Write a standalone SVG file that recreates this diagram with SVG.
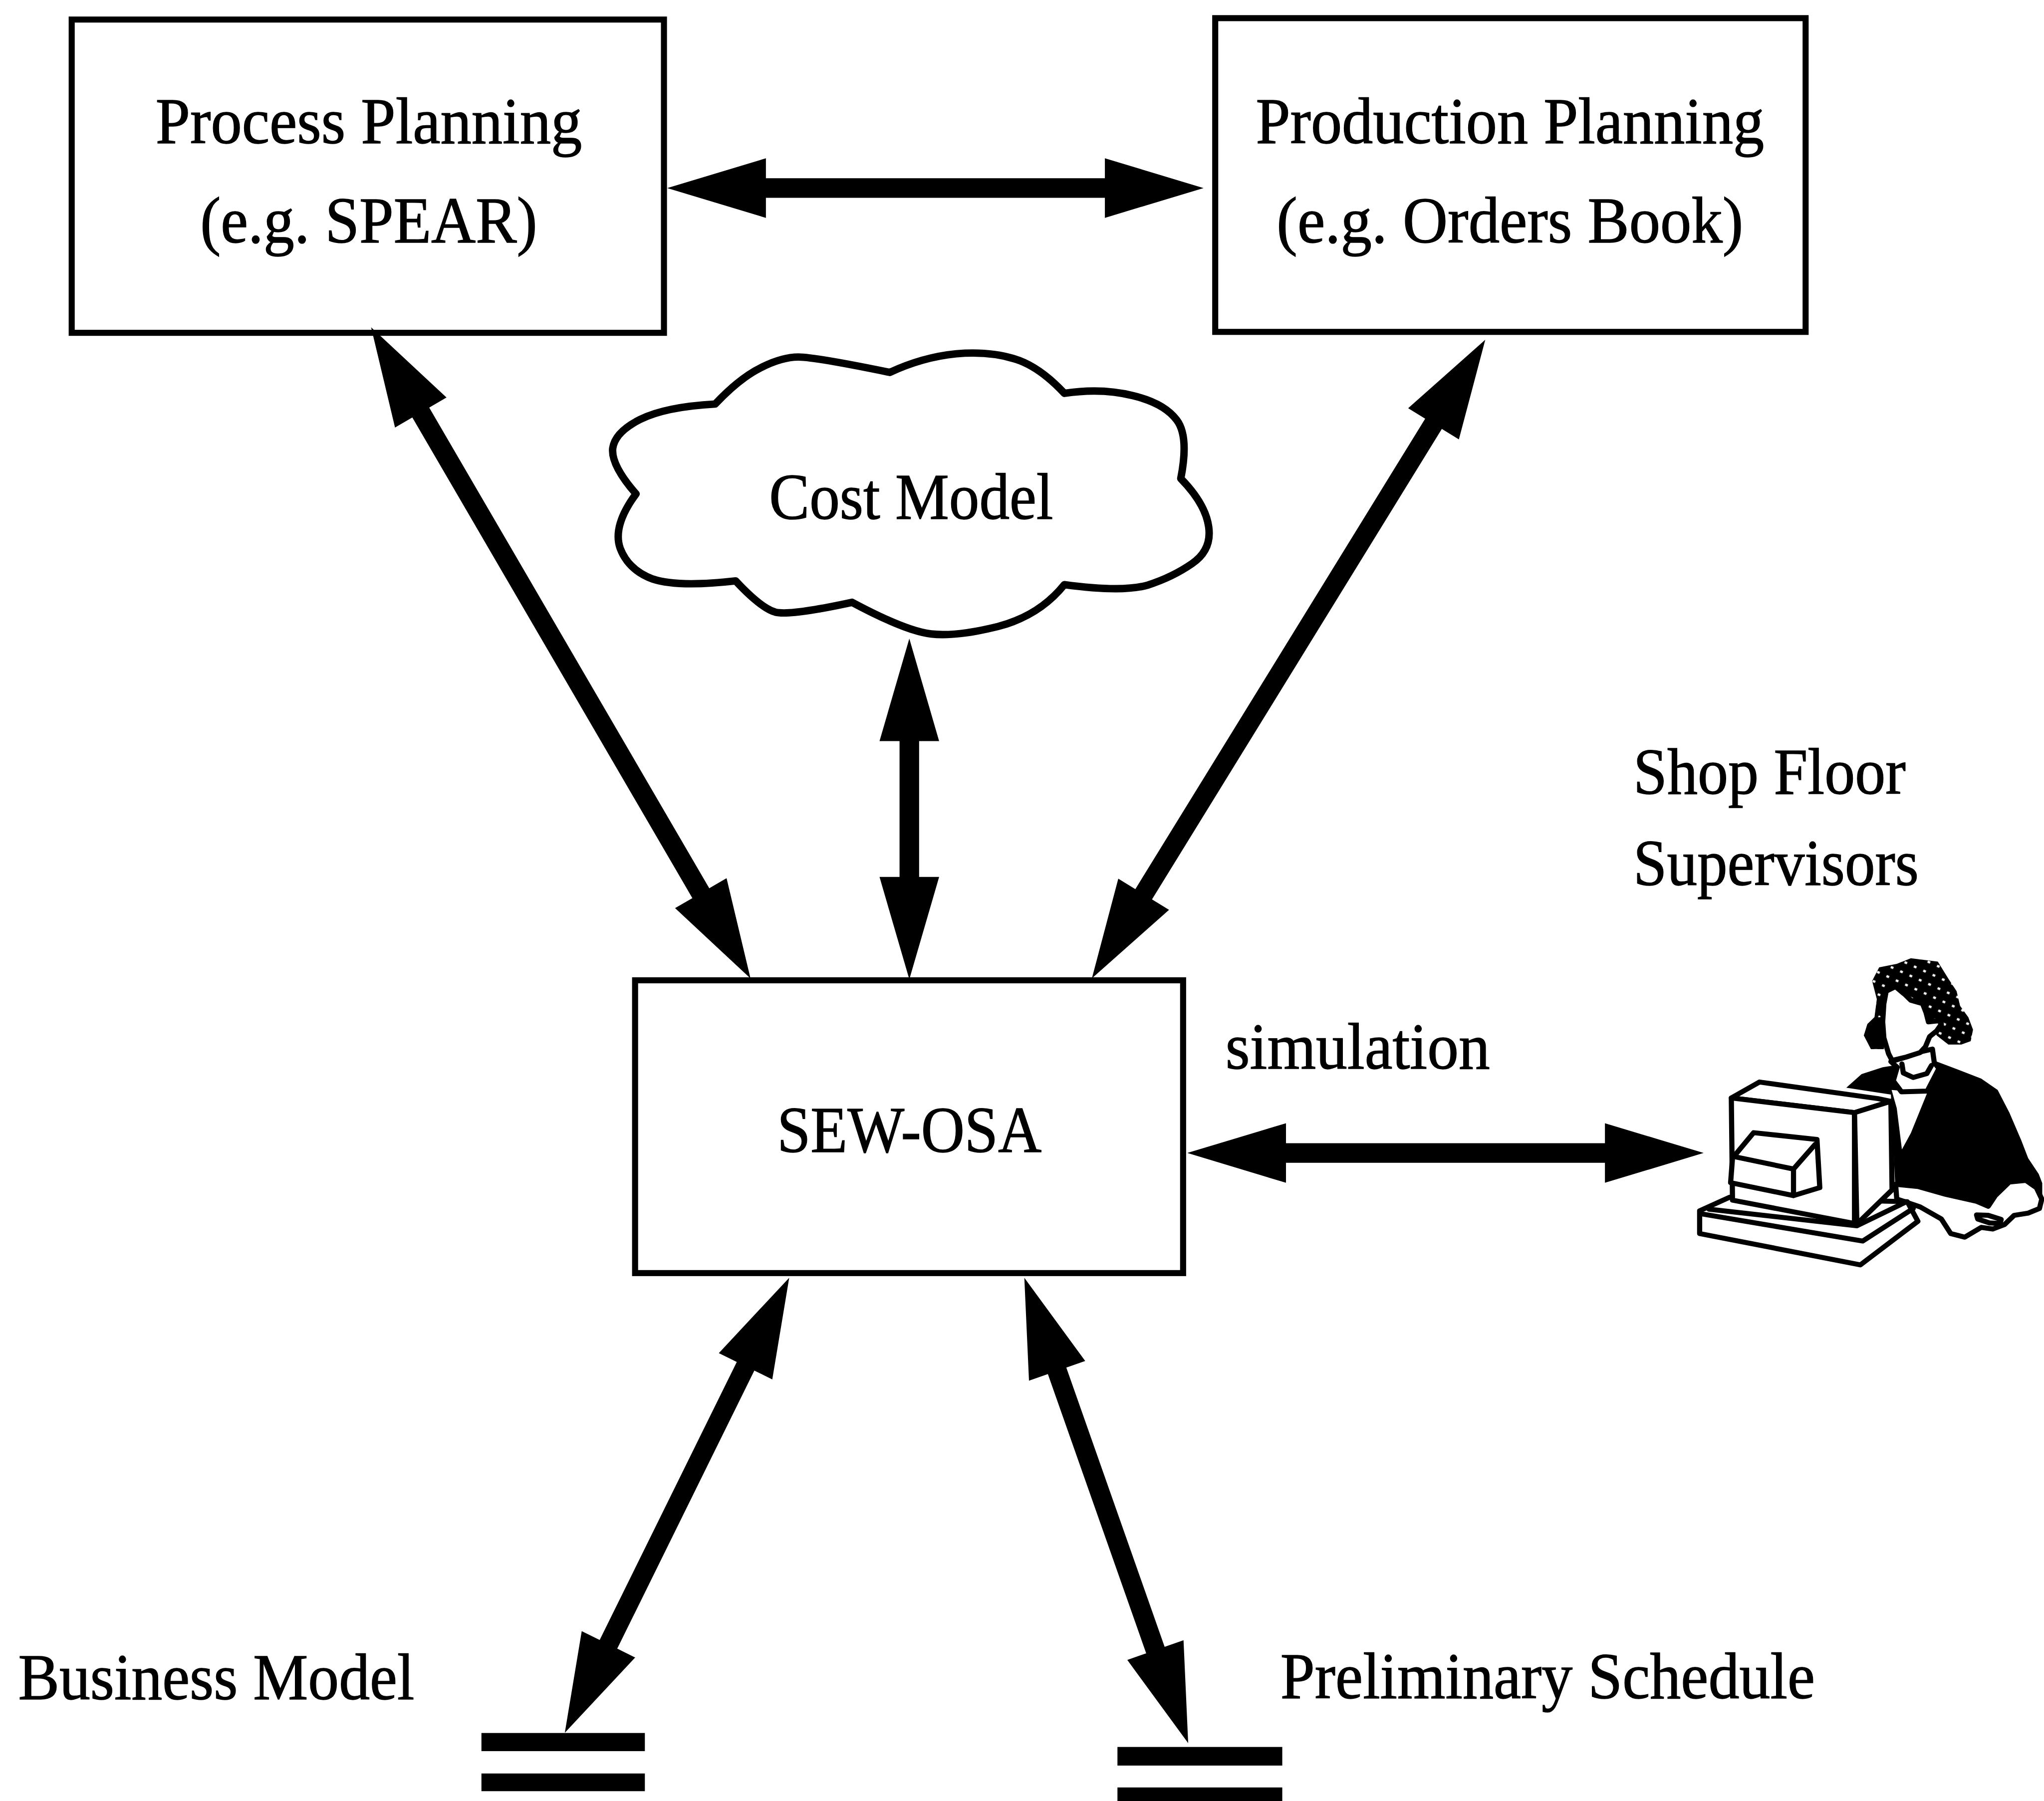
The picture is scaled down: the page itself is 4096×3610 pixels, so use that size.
<svg xmlns="http://www.w3.org/2000/svg" width="4096" height="3610" viewBox="0 0 4096 3610">
  <style>
    .box { fill: none; stroke: #000; stroke-width: 13; }
    .cloud { fill: none; stroke: #000; stroke-width: 16; stroke-linejoin: round; }
    .lbl { font-family: "Liberation Serif", "Times New Roman", serif; font-size: 140px; fill: #000; stroke: #000; stroke-width: 1.5; }
    .mid { text-anchor: middle; }
    .arrow { fill: #000; }
    .store { fill: #000; }
    .ink { fill: #fff; stroke: #000; stroke-width: 22; stroke-linejoin: round; }
    .line { fill: none; stroke: #000; stroke-width: 22; stroke-linejoin: round; stroke-linecap: round; }
  </style>
  <defs>
    <pattern id="dots" patternUnits="userSpaceOnUse" width="44" height="44" patternTransform="rotate(25)">
      <rect width="44" height="44" fill="#000"/>
      <rect x="16" y="16" width="12" height="10" fill="#fff"/>
    </pattern>
  </defs>
  <rect width="4096" height="3610" fill="#fff"/>
  <g transform="scale(0.93303)">

    <g id="process-planning">
      <rect class="box" x="154" y="42" width="1272" height="673"/>
      <text class="lbl mid" x="792" y="308" textLength="916" lengthAdjust="spacingAndGlyphs">Process Planning</text>
      <text class="lbl mid" x="792" y="521" textLength="724" lengthAdjust="spacingAndGlyphs">(e.g. SPEAR)</text>
    </g>

    <g id="production-planning">
      <rect class="box" x="2610" y="39" width="1268" height="674"/>
      <text class="lbl mid" x="3243" y="308" textLength="1092" lengthAdjust="spacingAndGlyphs">Production Planning</text>
      <text class="lbl mid" x="3243" y="521" textLength="1002" lengthAdjust="spacingAndGlyphs">(e.g. Orders Book)</text>
    </g>

    <g id="cost-model">
      <path class="cloud" d="M1536,868 Q1589,812 1634,790 Q1679,767 1715,767 Q1750,767 1911,800
        Q1982,767 2054,760 Q2125,754 2179,771 Q2232,787 2286,845
        Q2366,833 2433,850 Q2500,866 2527,902 Q2554,937 2536,1028
        Q2589,1082 2596,1132 Q2603,1182 2560,1211 Q2518,1240 2465,1257 Q2411,1273 2286,1256
        Q2232,1323 2143,1346 Q2054,1368 2000,1362 Q1946,1356 1830,1294
        Q1696,1323 1665,1315 Q1634,1306 1580,1248
        Q1455,1262 1402,1244 Q1350,1225 1332,1178 Q1315,1130 1366,1061
        Q1312,999 1316,963 Q1321,928 1375,901 Q1429,874 1536,868 Z"/>
      <text class="lbl mid" x="1957" y="1115" textLength="610" lengthAdjust="spacingAndGlyphs">Cost Model</text>
    </g>

    <g id="sew-osa">
      <rect class="box" x="1364" y="2106" width="1177" height="629"/>
      <text class="lbl mid" x="1953" y="2475" textLength="568" lengthAdjust="spacingAndGlyphs">SEW-OSA</text>
    </g>

    <g id="business-model">
      <rect class="store" x="1034" y="3723" width="351" height="39"/>
      <rect class="store" x="1034" y="3810" width="351" height="38"/>
      <text class="lbl" x="39" y="3651" textLength="851" lengthAdjust="spacingAndGlyphs">Business Model</text>
    </g>

    <g id="preliminary-schedule">
      <rect class="store" x="2400" y="3753" width="354" height="40"/>
      <rect class="store" x="2400" y="3840" width="354" height="40"/>
      <text class="lbl" x="2750" y="3648" textLength="1148" lengthAdjust="spacingAndGlyphs">Preliminary Schedule</text>
    </g>

    <g id="shop-floor-supervisors">
      <text class="lbl" x="3508" y="1705" textLength="585" lengthAdjust="spacingAndGlyphs">Shop Floor</text>
      <text class="lbl" x="3508" y="1901" textLength="613" lengthAdjust="spacingAndGlyphs">Supervisors</text>
      <g transform="translate(3600,2000) scale(0.504,0.488)">
        <!-- torso -->
        <polygon fill="#000" points="725,690 790,630 880,600 940,590 1110,575 1200,610 1300,650 1370,700 1420,800 1470,920 1500,1000 1545,1070 1560,1110 1560,1210 1530,1240 1300,1250 935,1150 915,720"/>
        <polygon fill="#fff" points="918,700 1070,712 1000,890 962,962 940,780"/>
        <!-- neck and collar -->
        <path class="ink" d="M915,575 L980,555 L1050,530 L1092,520 L1100,580 L1120,605 L1070,705 L960,708 L925,660 L942,600 Z"/>
        <path class="line" d="M962,585 L968,625 L1010,645 L1068,628 L1088,592"/>
        <!-- hair -->
        <polygon fill="url(#dots)" points="830,520 800,460 815,410 845,380 855,300 835,220 865,160 940,145 1000,120 1115,135 1160,210 1195,265 1210,330 1245,380 1265,435 1255,485 1215,500 1160,500 1110,460 1090,400 900,400 885,520"/>
        <polygon fill="#000" points="830,520 800,460 815,410 845,380 882,380 885,520"/>
        <!-- face -->
        <polygon class="ink" points="895,265 935,245 975,280 1000,305 1050,320 1065,360 1075,400 1120,395 1130,410 1110,440 1080,465 1062,510 1040,535 980,555 920,570 905,540 885,470 880,400 885,320"/>
        <!-- arm and hand -->
        <path class="ink" d="M935,1115 L1030,1125 L1150,1160 L1280,1190 L1330,1212 L1360,1165 L1420,1105 L1490,1098 L1535,1130 L1558,1180 L1548,1222 L1500,1242 L1440,1252 L1400,1292 L1350,1312 L1300,1305 L1230,1348 L1170,1332 L1130,1268 L1040,1215 L940,1180 Z"/>
        <path class="ink" d="M1280,1250 L1330,1252 L1385,1270 L1380,1288 L1335,1285 L1285,1268 Z"/>
        <!-- desk slab -->
        <path class="ink" d="M100,1232 L228,1172 L985,1192 L1030,1278 L785,1470 L100,1332 Z"/>
        <path class="line" d="M105,1245 L795,1365 L1010,1222"/>
        <path class="line" d="M140,1225 L770,1298 L975,1195"/>
        <!-- monitor -->
        <polygon class="ink" points="235,735 355,665 860,738 915,750 760,800"/>
        <polygon class="ink" points="235,735 760,800 760,1288 240,1185"/>
        <polygon class="ink" points="760,800 915,750 920,1140 770,1290"/>
        <path class="ink" d="M240,1000 L330,888 L600,918 L612,1130 L500,1165 L232,1108 Z"/>
        <path class="line" d="M255,995 L500,1048 L592,940 M500,1048 L500,1165"/>
      </g>
    </g>

    <text class="lbl" x="2632" y="2296" textLength="568" lengthAdjust="spacingAndGlyphs">simulation</text>

    <g id="connectors">
      <!-- Process Planning to Production Planning -->
      <path class="arrow" transform="translate(1433,404)" d="M0,0 L212,-64 L212,-21 L940,-21 L940,-64 L1152,0 L940,64 L940,21 L212,21 L212,64 Z"/>
      <!-- Process Planning to SEW-OSA -->
      <path class="arrow" transform="translate(797,703) rotate(59.78)" d="M0,0 L212,-64 L212,-21 L1407,-21 L1407,-64 L1619,0 L1407,64 L1407,21 L212,21 L212,64 Z"/>
      <!-- Production Planning to SEW-OSA -->
      <path class="arrow" transform="translate(3190,730) rotate(121.63)" d="M0,0 L212,-64 L212,-21 L1399,-21 L1399,-64 L1611,0 L1399,64 L1399,21 L212,21 L212,64 Z"/>
      <!-- Cost Model to SEW-OSA -->
      <path class="arrow" transform="translate(1953,1372) rotate(90)" d="M0,0 L220,-64 L220,-21 L512,-21 L512,-64 L732,0 L512,64 L512,21 L220,21 L220,64 Z"/>
      <!-- SEW-OSA to supervisors (simulation) -->
      <path class="arrow" transform="translate(2550,2477)" d="M0,0 L212,-64 L212,-21 L897,-21 L897,-64 L1109,0 L897,64 L897,21 L212,21 L212,64 Z"/>
      <!-- SEW-OSA to Business Model -->
      <path class="arrow" transform="translate(1695,2745) rotate(116.24)" d="M0,0 L212,-64 L212,-21 L878,-21 L878,-64 L1090,0 L878,64 L878,21 L212,21 L212,64 Z"/>
      <!-- SEW-OSA to Preliminary Schedule -->
      <path class="arrow" transform="translate(2200,2745) rotate(70.61)" d="M0,0 L212,-64 L212,-21 L848,-21 L848,-64 L1060,0 L848,64 L848,21 L212,21 L212,64 Z"/>
    </g>
  </g>
</svg>
